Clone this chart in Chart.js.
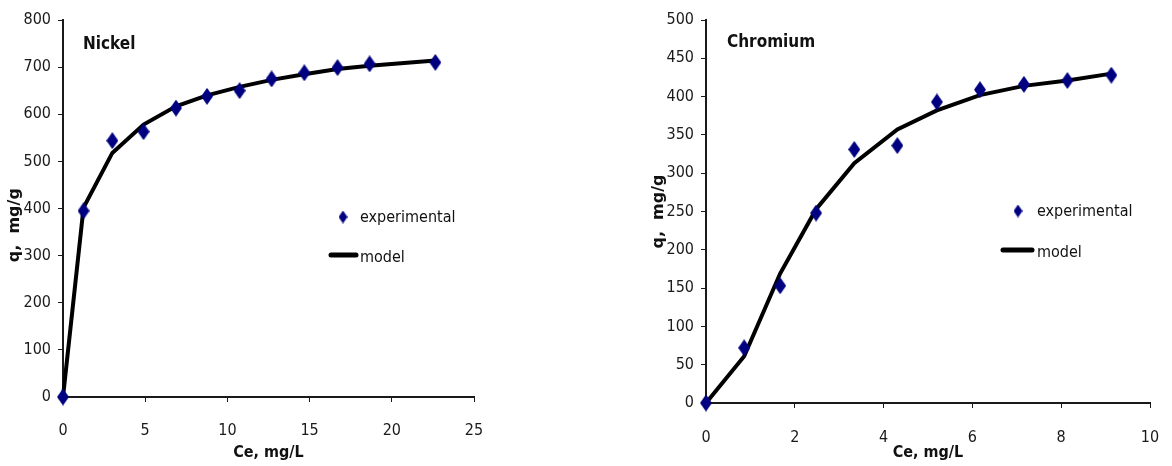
<!DOCTYPE html>
<html>
<head>
<meta charset="utf-8">
<script src="https://cdn.jsdelivr.net/npm/chart.js@4"></script>
<style>
  body { margin: 0; background: #fff; width: 1172px; height: 466px; position: relative; overflow: hidden; }
  canvas { position: absolute; top: 0; }
</style>
</head>
<body>
<canvas id="nickelChart" width="500" height="466" style="left:0"></canvas>
<canvas id="chromiumChart" width="532" height="466" style="left:640px"></canvas>
<script>
// Nickel isotherm
const nickelCe = [0, 1.25, 3.0, 4.9, 6.87, 8.76, 10.74, 12.69, 14.68, 16.7, 18.65, 22.65];
const nickelExp = [0, 395, 544, 563, 613, 638, 650, 675, 688, 699, 707, 710];
const nickelModel = [0, 402, 518, 578, 617, 640, 658, 673, 685, 696, 703, 714];

// Chromium isotherm
const chromiumCe = [0, 0.86, 1.67, 2.48, 3.34, 4.31, 5.2, 6.17, 7.16, 8.14, 9.13];
const chromiumExp = [0, 72, 153, 248, 331, 336, 393, 409, 416, 421, 428];
const chromiumModel = [0, 61, 169, 253, 313, 357, 382, 402, 414, 421, 430];

const seriesLabels = ['experimental', 'model'];
const xTitle = 'Ce, mg/L';
const yTitle = 'q,  mg/g';

const narrow = "'Liberation Sans Narrow', 'DejaVu Sans Condensed', sans-serif";
const navy = '#000080';
const ink = '#1a1a1a';

function diamond(w, h, color) {
    const c = document.createElement('canvas');
    c.width = w;
    c.height = h;
    const g = c.getContext('2d');
    g.fillStyle = color;
    g.beginPath();
    g.moveTo(w / 2, 0);
    g.lineTo(w, h / 2);
    g.lineTo(w / 2, h);
    g.lineTo(0, h / 2);
    g.closePath();
    g.fill();
    return c;
}
const bigDiamond = diamond(12, 17, navy);
const smallDiamond = diamond(9, 13, navy);

// title + legend drawn inside the plot area
const insideText = {
    id: 'insideText',
    afterDatasetsDraw(chart, args, opts) {
        const ctx = chart.ctx;
        const ds = chart.data.datasets;
        ctx.save();
        ctx.fillStyle = '#111';
        ctx.textBaseline = 'middle';
        ctx.font = 'bold 17px ' + narrow;
        ctx.fillText(opts.title, opts.titleX, opts.titleY);
        ctx.font = '16px ' + narrow;
        ctx.drawImage(smallDiamond, opts.markX - 4.5, opts.markY - 6.5);
        ctx.fillText(ds[0].label, opts.textX, opts.markY + 1);
        ctx.strokeStyle = '#000';
        ctx.lineWidth = 5;
        ctx.lineCap = 'round';
        ctx.beginPath();
        ctx.moveTo(opts.lineX0, opts.lineY);
        ctx.lineTo(opts.lineX1, opts.lineY);
        ctx.stroke();
        ctx.fillText(ds[1].label, opts.textX, opts.lineY + 3);
        ctx.restore();
    }
};

function makeChart(id, ce, exp, model, cfg) {
    return new Chart(document.getElementById(id), {
        type: 'scatter',
        data: {
            datasets: [{
                label: seriesLabels[0],
                data: ce.map((x, i) => ({ x: x, y: exp[i] })),
                pointStyle: bigDiamond,
                pointRadius: 8,
                showLine: false,
                clip: false
            }, {
                label: seriesLabels[1],
                data: ce.map((x, i) => ({ x: x, y: model[i] })),
                showLine: true,
                pointRadius: 0,
                borderColor: '#000',
                borderWidth: 4,
                fill: false,
                clip: false
            }]
        },
        options: {
            responsive: false,
            animation: false,
            layout: { padding: { top: 20, right: cfg.padRight, bottom: 0, left: 0 } },
            plugins: {
                legend: { display: false },
                tooltip: { enabled: false },
                insideText: cfg.inside
            },
            scales: {
                x: {
                    type: 'linear',
                    min: 0,
                    max: cfg.xMax,
                    // big tick padding would otherwise eat into the right margin
                    afterFit: s => { s.height = cfg.xHeight; s.paddingLeft = 0; s.paddingRight = 10; },
                    ticks: { stepSize: cfg.xStep, color: ink, padding: cfg.xTickPad, font: { family: narrow, size: 16 } },
                    grid: { drawOnChartArea: false, drawTicks: true, tickLength: 5, color: ink },
                    border: { color: ink, width: 2 },
                    title: { display: true, text: xTitle, color: '#111', padding: { top: 0, bottom: 4 },
                        font: { family: narrow, size: 16, weight: 'bold' } }
                },
                y: {
                    min: 0,
                    max: cfg.yMax,
                    afterFit: s => { s.width = cfg.yWidth; },
                    ticks: { stepSize: cfg.yStep, color: ink, padding: 7, font: { family: narrow, size: 16 } },
                    grid: { drawOnChartArea: false, drawTicks: true, tickLength: 5, color: ink },
                    border: { color: ink, width: 2 },
                    // trailing spaces nudge the rotated title down where needed
                    title: { display: true, text: yTitle + cfg.yTitleTail, color: '#111', padding: { top: cfg.yTitlePad, bottom: 0 },
                        font: { family: "'DejaVu Sans', sans-serif", size: 16, weight: 'bold' } }
                }
            }
        },
        plugins: [insideText]
    });
}

makeChart('nickelChart', nickelCe, nickelExp, nickelModel, {
    xMax: 25, xStep: 5, yMax: 800, yStep: 100,
    padRight: 26, xHeight: 69, yWidth: 63, xTickPad: 19, yTitlePad: 5, yTitleTail: '      ',
    inside: { title: 'Nickel', titleX: 83, titleY: 45,
        markX: 343, markY: 217, textX: 360, lineX0: 331, lineX1: 356, lineY: 255 }
});

makeChart('chromiumChart', chromiumCe, chromiumExp, chromiumModel, {
    xMax: 10, xStep: 2, yMax: 500, yStep: 50,
    padRight: 22, xHeight: 63, yWidth: 66, xTickPad: 20, yTitlePad: 9, yTitleTail: '',
    inside: { title: 'Chromium', titleX: 87, titleY: 43,
        markX: 378, markY: 211, textX: 397, lineX0: 363, lineX1: 392, lineY: 250 }
});
</script>
</body>
</html>
